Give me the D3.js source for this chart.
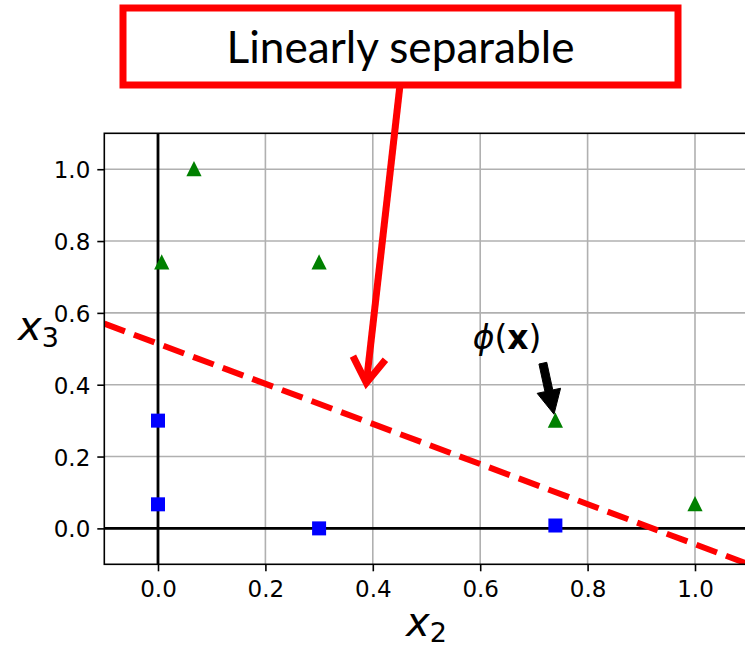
<!DOCTYPE html>
<html>
<head>
<meta charset="utf-8">
<script src="https://cdn.jsdelivr.net/npm/d3@7"></script>
<style>
  body { margin: 0; background: #fff; }
  svg { display: block; }
</style>
</head>
<body>
<svg id="chart" width="745" height="645"></svg>
<script>
// points after the kernel mapping
// class 0 -> blue squares, class 1 -> green triangles
const blueX = [0.30, 0.74, 0.0, 0.0];
const blueY = [0.0, 0.008, 0.30, 0.067];
const greenX = [1.0, 0.74, 0.30, 0.067, 0.007];
const greenY = [0.067, 0.30, 0.74, 1.0, 0.74];

// the dashed separating line
const boundaryX = [-0.1, 1.1];
const boundaryY = [0.57, -0.1];

const xTicks = [0.0, 0.2, 0.4, 0.6, 0.8, 1.0];
const yTicks = [0.0, 0.2, 0.4, 0.6, 0.8, 1.0];

// phi(x) annotation: point it marks, and where its text sits
const phiPoint = [0.74, 0.30];
const phiText = [0.65, 0.50];

// red callout on top
const calloutText = "Linearly separable";
const calloutTip = [0.388, 0.405];

var svg = d3.select("#chart");

// plot area ("top" is taken by window.top, so use other names)
var pLeft = 104.3, pTop = 133.3, pBottom = 564.3, pRight = 748.7;

var x = d3.scaleLinear().domain([-0.1, 1.1]).range([pLeft, pRight]);
var y = d3.scaleLinear().domain([-0.1, 1.1]).range([pBottom, pTop]);

svg.append("defs").append("clipPath").attr("id", "plotclip")
  .append("rect")
  .attr("x", pLeft).attr("y", pTop)
  .attr("width", pRight - pLeft).attr("height", pBottom - pTop);

var plot = svg.append("g").attr("clip-path", "url(#plotclip)");

// grid
plot.selectAll(".gx").data(xTicks).enter().append("line")
  .attr("x1", d => x(d)).attr("x2", d => x(d))
  .attr("y1", pTop).attr("y2", pBottom)
  .attr("stroke", "#b0b0b0").attr("stroke-width", 1.6);
plot.selectAll(".gy").data(yTicks).enter().append("line")
  .attr("y1", d => y(d)).attr("y2", d => y(d))
  .attr("x1", pLeft).attr("x2", pRight)
  .attr("stroke", "#b0b0b0").attr("stroke-width", 1.6);

// zero lines
plot.append("line")
  .attr("x1", pLeft).attr("x2", pRight)
  .attr("y1", y(0)).attr("y2", y(0))
  .attr("stroke", "#000").attr("stroke-width", 2.8);
plot.append("line")
  .attr("x1", x(0)).attr("x2", x(0))
  .attr("y1", pTop).attr("y2", pBottom)
  .attr("stroke", "#000").attr("stroke-width", 2.8);

// blue squares
var blue = blueX.map((v, i) => [v, blueY[i]]);
plot.selectAll(".sq").data(blue).enter().append("rect")
  .attr("x", d => x(d[0]) - 6).attr("y", d => y(d[1]) - 6)
  .attr("width", 12).attr("height", 12)
  .attr("fill", "#0000ff").attr("stroke", "#0000ff").attr("stroke-width", 2);

// green triangles
var green = greenX.map((v, i) => [v, greenY[i]]);
plot.selectAll(".tri").data(green).enter().append("path")
  .attr("d", "M0,-6L6,6L-6,6Z")
  .attr("transform", d => "translate(" + x(d[0]) + "," + y(d[1]) + ")")
  .attr("fill", "#008000").attr("stroke", "#008000").attr("stroke-width", 2)
  .attr("stroke-linejoin", "miter");

// dashed boundary
var line = d3.line().x(d => x(d[0])).y(d => y(d[1]));
plot.append("path")
  .datum(boundaryX.map((v, i) => [v, boundaryY[i]]))
  .attr("d", line)
  .attr("fill", "none")
  .attr("stroke", "#ff0000").attr("stroke-width", 6)
  .attr("stroke-dasharray", "22,9.6");

// spines
svg.append("rect")
  .attr("x", pLeft).attr("y", pTop)
  .attr("width", pRight - pLeft).attr("height", pBottom - pTop)
  .attr("fill", "none").attr("stroke", "#000").attr("stroke-width", 1.6);

// axes
var xAxis = svg.append("g")
  .attr("transform", "translate(0," + pBottom + ")")
  .call(d3.axisBottom(x).tickValues(xTicks).tickFormat(d3.format(".1f"))
    .tickSize(7).tickPadding(9));
var yAxis = svg.append("g")
  .attr("transform", "translate(" + pLeft + ",0)")
  .call(d3.axisLeft(y).tickValues(yTicks).tickFormat(d3.format(".1f"))
    .tickSize(7).tickPadding(7));

[xAxis, yAxis].forEach(function(g) {
  g.select(".domain").remove();
  g.selectAll(".tick line").attr("stroke", "#000").attr("stroke-width", 1.6);
  g.selectAll(".tick text")
    .attr("fill", "#000")
    .attr("font-family", "DejaVu Sans")
    .attr("font-size", 23);
});
yAxis.selectAll(".tick text").attr("dy", "0.37em");

// axis labels
var xl = svg.append("text")
  .attr("x", (pLeft + pRight) / 2).attr("y", pBottom + 72)
  .attr("text-anchor", "middle")
  .attr("font-family", "DejaVu Sans").attr("font-size", 40);
xl.append("tspan").attr("font-style", "italic").text("x");
xl.append("tspan").attr("font-size", 27).attr("dy", 5.5).text("2");

var yl = svg.append("text")
  .attr("x", 18).attr("y", 340)
  .attr("font-family", "DejaVu Sans").attr("font-size", 40);
yl.append("tspan").attr("font-style", "italic").text("x");
yl.append("tspan").attr("font-size", 27).attr("dy", 7).text("3");

// phi(x) annotation
var pt = svg.append("text")
  .attr("x", x(phiText[0])).attr("y", y(phiText[1]))
  .attr("text-anchor", "middle")
  .attr("font-family", "DejaVu Sans").attr("font-size", 33)
  .attr("fill", "#000");
pt.append("tspan").attr("font-style", "italic").text("\u03D5");
pt.append("tspan").text("(");
pt.append("tspan").attr("font-weight", "bold").text("x");
pt.append("tspan").text(")");

// arrow from nearest text-box corner to the point, shrunk 10% at both ends
var bb = pt.node().getBBox();
var ex = x(phiPoint[0]), ey = y(phiPoint[1]);
var cx = [bb.x, bb.x + bb.width / 2, bb.x + bb.width];
var cy = [bb.y, bb.y + bb.height / 2, bb.y + bb.height];
var sx = cx.reduce((a, b) => Math.abs(b - ex) < Math.abs(a - ex) ? b : a);
var sy = cy.reduce((a, b) => Math.abs(b - ey) < Math.abs(a - ey) ? b : a);
var dx = ex - sx, dy = ey - sy, len = Math.hypot(dx, dy);
var ux = dx / len, uy = dy / len, nx = -uy, ny = ux;
var ax0 = sx + ux * len * 0.1, ay0 = sy + uy * len * 0.1;
var ax1 = ex - ux * len * 0.1, ay1 = ey - uy * len * 0.1;
var tw = 4, hw = 12, hl = 24;
var hx = ax1 - ux * hl, hy = ay1 - uy * hl;
var arrowPts = [
  [ax0 + nx * tw, ay0 + ny * tw],
  [hx + nx * tw, hy + ny * tw],
  [hx + nx * hw, hy + ny * hw],
  [ax1, ay1],
  [hx - nx * hw, hy - ny * hw],
  [hx - nx * tw, hy - ny * tw],
  [ax0 - nx * tw, ay0 - ny * tw]
];
svg.append("path")
  .attr("d", "M" + arrowPts.join("L") + "Z")
  .attr("fill", "#000").attr("stroke", "#000").attr("stroke-width", 1);

// red callout box + pointer
var boxX = 123, boxY = 8, boxW = 555, boxH = 77;
var px0 = 400, py0 = boxY + boxH;
var px1 = x(calloutTip[0]), py1 = y(calloutTip[1]);
svg.append("line")
  .attr("x1", px0).attr("y1", py0).attr("x2", px1).attr("y2", py1)
  .attr("stroke", "#ff0000").attr("stroke-width", 7);
var bx = (px0 - px1), by = (py0 - py1), bl = Math.hypot(bx, by);
bx /= bl; by /= bl;
var ang = 33 * Math.PI / 180, arm = 30;
function rot(a) {
  return [px1 + arm * (bx * Math.cos(a) - by * Math.sin(a)),
          py1 + arm * (bx * Math.sin(a) + by * Math.cos(a))];
}
svg.append("path")
  .attr("d", "M" + rot(ang) + "L" + [px1, py1] + "L" + rot(-ang))
  .attr("fill", "none")
  .attr("stroke", "#ff0000").attr("stroke-width", 7)
  .attr("stroke-linejoin", "miter");

svg.append("rect")
  .attr("x", boxX).attr("y", boxY).attr("width", boxW).attr("height", boxH)
  .attr("fill", "#fff").attr("stroke", "#ff0000").attr("stroke-width", 7);

var ct = svg.append("text")
  .attr("x", boxX + boxW / 2).attr("y", 63.3)
  .attr("text-anchor", "middle")
  .attr("font-family", "Lato").attr("font-size", 42)
  .attr("fill", "#000")
  .text(calloutText);
// fit width to the reference text (~348px)
var w = ct.node().getComputedTextLength();
ct.attr("font-size", 42 * 348 / w);
</script>
</body>
</html>
